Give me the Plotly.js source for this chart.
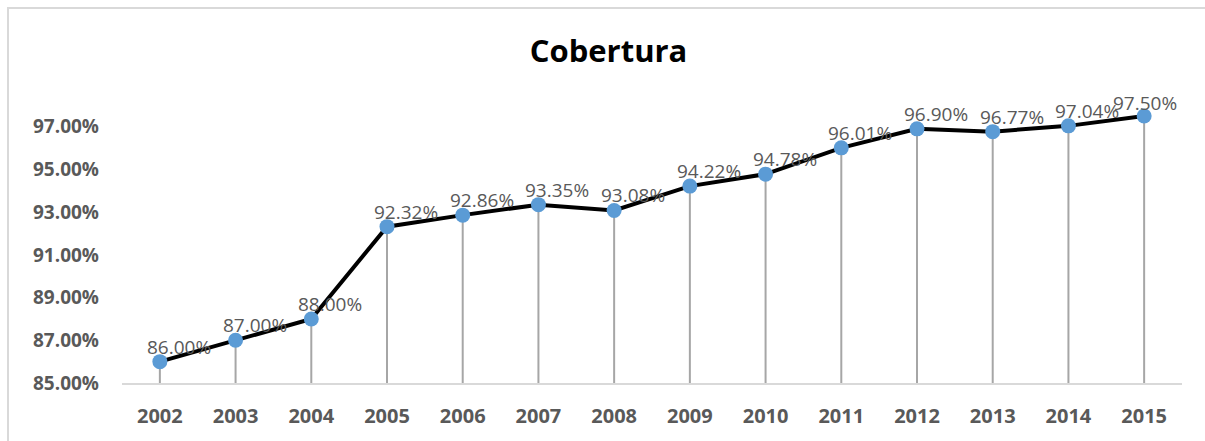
<!DOCTYPE html>
<html>
<head>
<meta charset="utf-8">
<script src="https://cdn.plot.ly/plotly-3.0.1.min.js"></script>
<style>
  html, body { margin: 0; padding: 0; background: #fff; overflow: hidden; }
  #chart { width: 1205px; height: 441px; }
  #frame { position: absolute; left: 7px; top: 7px; width: 1300px; height: 500px;
           border-left: 2px solid #d9d9d9; border-top: 2px solid #d9d9d9; pointer-events: none; }
</style>
</head>
<body>
<div id="chart"></div>
<div id="frame"></div>
<script>
const years = ["2002","2003","2004","2005","2006","2007","2008","2009","2010","2011","2012","2013","2014","2015"];
const coverage = [86.00, 87.00, 88.00, 92.32, 92.86, 93.35, 93.08, 94.22, 94.78, 96.01, 96.90, 96.77, 97.04, 97.50];
const yTicks = [85, 87, 89, 91, 93, 95, 97];
const yTickLabels = ["85.00%", "87.00%", "89.00%", "91.00%", "93.00%", "95.00%", "97.00%"];
const chartTitle = "Cobertura";
const axisMin = 85;
const axisMax = 99;

// drop lines from each point to the category axis
const dropX = [], dropY = [];
years.forEach((yr, i) => { dropX.push(yr, yr, null); dropY.push(coverage[i], axisMin, null); });

const drops = {
  x: dropX, y: dropY, type: 'scatter', mode: 'lines',
  line: { color: '#a6a6a6', width: 2 }, hoverinfo: 'skip', showlegend: false
};
const series = {
  x: years, y: coverage, type: 'scatter', mode: 'lines+markers',
  line: { color: '#000000', width: 4 },
  marker: { color: '#5b9bd5', size: 15 },
  hoverinfo: 'skip', showlegend: false
};

const annotations = years.map((yr, i) => {
  const last = i === years.length - 1;
  return {
    x: i, y: coverage[i], xref: 'x', yref: 'y',
    text: coverage[i].toFixed(2) + '%', showarrow: false,
    xshift: last ? 1 : 19, yshift: last ? 13 : 15,
    font: { family: 'Open Sans', size: 19, color: '#595959' }
  };
});

const layout = {
  width: 1205, height: 441,
  margin: { l: 122, r: 23, t: 84, b: 58 },
  paper_bgcolor: '#ffffff', plot_bgcolor: '#ffffff',
  title: { text: '<b>' + chartTitle + '</b>', x: 0.505, xanchor: 'center', y: 0.883, yanchor: 'middle',
           font: { family: 'Open Sans', size: 31, color: '#000000' } },
  xaxis: {
    type: 'category', categoryorder: 'array', categoryarray: years,
    range: [-0.5, years.length - 0.5], autorange: false,
    showgrid: false, zeroline: false,
    showline: true, linecolor: '#d9d9d9', linewidth: 2, ticks: '',
    ticklabelstandoff: 14,
    tickfont: { family: 'Open Sans', size: 20, color: '#595959', weight: 'bold' }
  },
  yaxis: {
    range: [axisMin, axisMax], autorange: false, tickvals: yTicks, ticktext: yTickLabels,
    showgrid: false, zeroline: false, showline: false, ticks: '',
    ticklabelstandoff: 22,
    tickfont: { family: 'Open Sans', size: 19, color: '#595959', weight: 'bold' }
  },
  annotations: annotations,
  hovermode: false
};

Plotly.newPlot('chart', [drops, series], layout, { staticPlot: true, displayModeBar: false });
</script>
</body>
</html>
